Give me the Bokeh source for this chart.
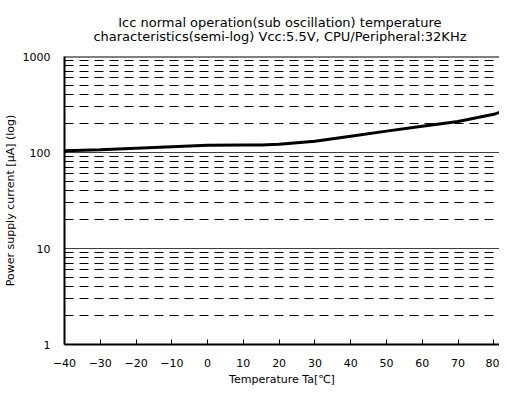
from bokeh.plotting import figure
from bokeh.models import FixedTicker, PrintfTickFormatter, Span, Range1d, CustomJSTickFormatter
from bokeh.embed import file_html
from bokeh.resources import INLINE

# Data
temps = [-40, -30, -20, -10, 0, 10, 15, 20, 30, 40, 50, 60, 70, 80, 82]
icc = [104, 107, 111, 115, 119, 120, 120, 122, 131, 148, 167, 188, 210, 250, 265]
x_ticks = [-40, -30, -20, -10, 0, 10, 20, 30, 40, 50, 60, 70, 80]
y_ticks = [1, 10, 100, 1000]
y_minor = [2, 3, 4, 5, 6, 7, 8, 9, 20, 30, 40, 50, 60, 70, 80, 90,
           200, 300, 400, 500, 600, 700, 800, 900]
title_lines = ["Icc normal operation(sub oscillation) temperature",
               "characteristics(semi-log)  Vcc:5.5V, CPU/Peripheral:32KHz"]

FONT = "DejaVu Sans"

p = figure(width=499, height=388, y_axis_type="log",
           x_range=Range1d(-40, 81.6), y_range=Range1d(1, 1000),
           output_backend="svg", toolbar_location=None,
           min_border_left=0, min_border_right=0, min_border_top=0,
           min_border_bottom=0)
p.outline_line_color = None

# multi-line title; the first line is indented so both lines look centred
p.title.text = "\u00a0" * 6 + title_lines[0] + "\n" + title_lines[1]
p.title.align = "center"
p.title.text_font = FONT
p.title.text_font_size = "13px"
p.title.text_font_style = "normal"
p.title.text_color = "black"
p.title.text_line_height = 0.95
p.title.standoff = 25

# axes
p.xaxis.ticker = FixedTicker(ticks=x_ticks)
p.xaxis.formatter = CustomJSTickFormatter(
    code="return tick < 0 ? '\u2212' + Math.abs(tick) : String(tick);")
p.xaxis.major_tick_in = 5
p.xaxis.major_tick_out = 0
p.xaxis.minor_tick_line_color = None
p.xaxis.axis_line_width = 2
p.xaxis.axis_line_color = "black"
p.xaxis.major_tick_line_color = "black"
p.xaxis.major_tick_line_width = 1
p.xaxis.axis_label = "Temperature Ta[℃]"
p.xaxis.major_label_standoff = 14
p.xaxis.axis_label_standoff = 3

p.yaxis.ticker = FixedTicker(ticks=y_ticks, minor_ticks=y_minor)
p.yaxis.formatter = PrintfTickFormatter(format="%d")
p.yaxis.major_tick_line_color = None
p.yaxis.minor_tick_line_color = None
p.yaxis.axis_line_width = 2
p.yaxis.axis_line_color = "black"
p.yaxis.axis_label = "Power supply current [μA] (log)"
p.yaxis.major_label_standoff = 8
p.yaxis.axis_label_standoff = 3

for ax in (p.xaxis, p.yaxis):
    ax.major_label_text_font = FONT
    ax.major_label_text_font_size = "11px"
    ax.major_label_text_color = "black"
    ax.axis_label_text_font = FONT
    ax.axis_label_text_font_size = "11px"
    ax.axis_label_text_font_style = "normal"
    ax.axis_label_text_color = "black"

p.xgrid.grid_line_color = None
p.ygrid.grid_line_color = "#404040"
p.ygrid.grid_line_width = 1
p.ygrid.minor_grid_line_color = "black"
p.ygrid.minor_grid_line_dash = "9 6"
p.ygrid.minor_grid_line_width = 1

top = Span(location=y_ticks[-1], dimension="width", line_color="black", line_width=2)
p.add_layout(top)

p.line(temps, icc, line_color="black", line_width=3)

open("out.html", "w").write(file_html(p, INLINE))
